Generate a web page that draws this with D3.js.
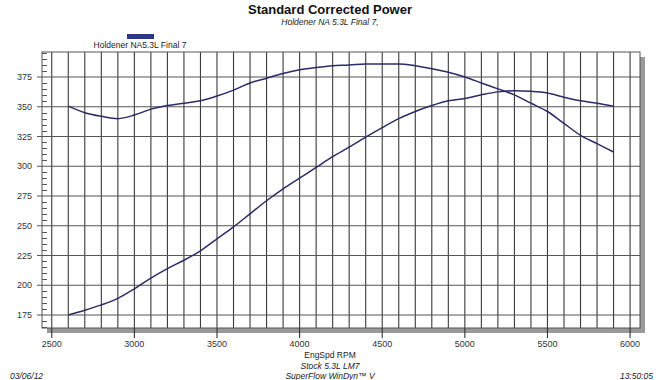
<!DOCTYPE html>
<html><head><meta charset="utf-8">
<script src="https://cdn.jsdelivr.net/npm/d3@7/dist/d3.min.js"></script>
<style>body{margin:0;background:#fff}svg{display:block;font-family:"Liberation Sans",Arial,sans-serif}</style>
</head><body><svg id="c" width="660" height="380"></svg>
<script>
const rpm = [2600,2700,2800,2900,3000,3100,3200,3300,3400,3500,3600,3700,3800,3900,4000,4100,4200,4300,4400,4500,4600,4700,4800,4900,5000,5100,5200,5300,5400,5500,5600,5700,5800,5900];
const upperCurve = [350.5,345,342,340,343,348,351,353,355,359,364,370,374,378,381,383,384.5,385,386,386,386,384.5,382,379,375,370,365,360,353,346,336,326,319,312];
const lowerCurve = [175,179,183.5,189,197,206,214,221,229,239,249,260,271,281,290,299,308,316,324.5,332.5,340,346,351,355,357,360,362.5,363.5,363,361.5,358,355,353,350.5];
const xTicks = [2500,3000,3500,4000,4500,5000,5500,6000];
const yTicks = [175,200,225,250,275,300,325,350,375];
const legendLabel = "Holdener NA5.3L Final 7";

const svg = d3.select("#c");
const L=42,R=640,T=52,B=328;
const x = d3.scaleLinear().domain([2441,6060]).range([L,R]);
const y = d3.scaleLinear().domain([164.1,396]).range([B,T]);

// shadow
svg.append("rect").attr("x",R).attr("y",T+5).attr("width",5).attr("height",B-T).attr("fill","#999");
svg.append("rect").attr("x",L+5).attr("y",B).attr("width",R-L).attr("height",5).attr("fill","#999");
svg.append("rect").attr("x",L).attr("y",T).attr("width",R-L).attr("height",B-T).attr("fill","#fff");

// vertical grid every 100 rpm
const vg = d3.range(2500,6001,100);
svg.append("g").selectAll("line").data(vg).join("line")
  .attr("x1",d=>x(d)).attr("x2",d=>x(d)).attr("y1",T).attr("y2",B)
  .attr("stroke","#3a3a3a").attr("stroke-width",1.1);
// horizontal grid
svg.append("g").selectAll("line").data(yTicks).join("line")
  .attr("x1",L-5).attr("x2",R).attr("y1",d=>y(d)).attr("y2",d=>y(d))
  .attr("stroke","#555").attr("stroke-width",1.1);
// minor y ticks
const minor = d3.range(165,396,5).filter(v=>v%25!==0);
svg.append("g").selectAll("line").data(minor).join("line")
  .attr("x1",L).attr("x2",L+5).attr("y1",d=>Math.round(y(d))+0.5).attr("y2",d=>Math.round(y(d))+0.5)
  .attr("stroke","#555").attr("stroke-width",1);
// frame
svg.append("rect").attr("x",L).attr("y",T).attr("width",R-L).attr("height",B-T)
  .attr("fill","none").attr("stroke","#555").attr("stroke-width",1);

// x axis ticks
svg.append("g").selectAll("line").data(xTicks).join("line")
  .attr("x1",d=>x(d)).attr("x2",d=>x(d)).attr("y1",B).attr("y2",B+10)
  .attr("stroke","#333").attr("stroke-width",1.1);
svg.append("g").selectAll("text").data(xTicks).join("text")
  .attr("x",d=>x(d)).attr("y",347).attr("text-anchor","middle")
  .attr("font-size",9).attr("fill","#333").text(d=>d);
svg.append("g").selectAll("text").data(yTicks).join("text")
  .attr("x",32).attr("y",d=>y(d)+3).attr("text-anchor","end")
  .attr("font-size",9).attr("fill","#333").text(d=>d);

// curves
const line = d3.line().x(d=>x(d[0])).y(d=>y(d[1])).curve(d3.curveMonotoneX);
[upperCurve,lowerCurve].forEach(s=>{
  svg.append("path").attr("d",line(rpm.map((r,i)=>[r,s[i]])))
    .attr("fill","none").attr("stroke","#2b2b66").attr("stroke-width",1.5);
});

// titles
svg.append("text").attr("x",330).attr("y",14).attr("text-anchor","middle")
  .attr("font-size",13).attr("font-weight","bold").attr("fill","#111").text("Standard Corrected Power");
svg.append("text").attr("x",330).attr("y",25).attr("text-anchor","middle")
  .attr("font-size",8.5).attr("font-style","italic").attr("fill","#222").text("Holdener NA 5.3L Final 7,");
// legend
svg.append("rect").attr("x",127).attr("y",34).attr("width",27).attr("height",5).attr("fill","#2b3a80");
svg.append("text").attr("x",140).attr("y",48).attr("text-anchor","middle")
  .attr("font-size",8.5).attr("fill","#222").text(legendLabel);
// bottom texts
svg.append("text").attr("x",330).attr("y",358).attr("text-anchor","middle")
  .attr("font-size",8.5).attr("fill","#222").text("EngSpd  RPM");
svg.append("text").attr("x",330).attr("y",369).attr("text-anchor","middle")
  .attr("font-size",8.5).attr("font-style","italic").attr("fill","#222").text("Stock 5.3L LM7");
svg.append("text").attr("x",330).attr("y",379).attr("text-anchor","middle")
  .attr("font-size",8.5).attr("font-style","italic").attr("fill","#222").text("SuperFlow WinDyn\u2122 V");
svg.append("text").attr("x",10).attr("y",379)
  .attr("font-size",8.5).attr("font-style","italic").attr("fill","#222").text("03/06/12");
svg.append("text").attr("x",653).attr("y",379).attr("text-anchor","end")
  .attr("font-size",8.5).attr("font-style","italic").attr("fill","#222").text("13:50:05");
</script></body></html>
